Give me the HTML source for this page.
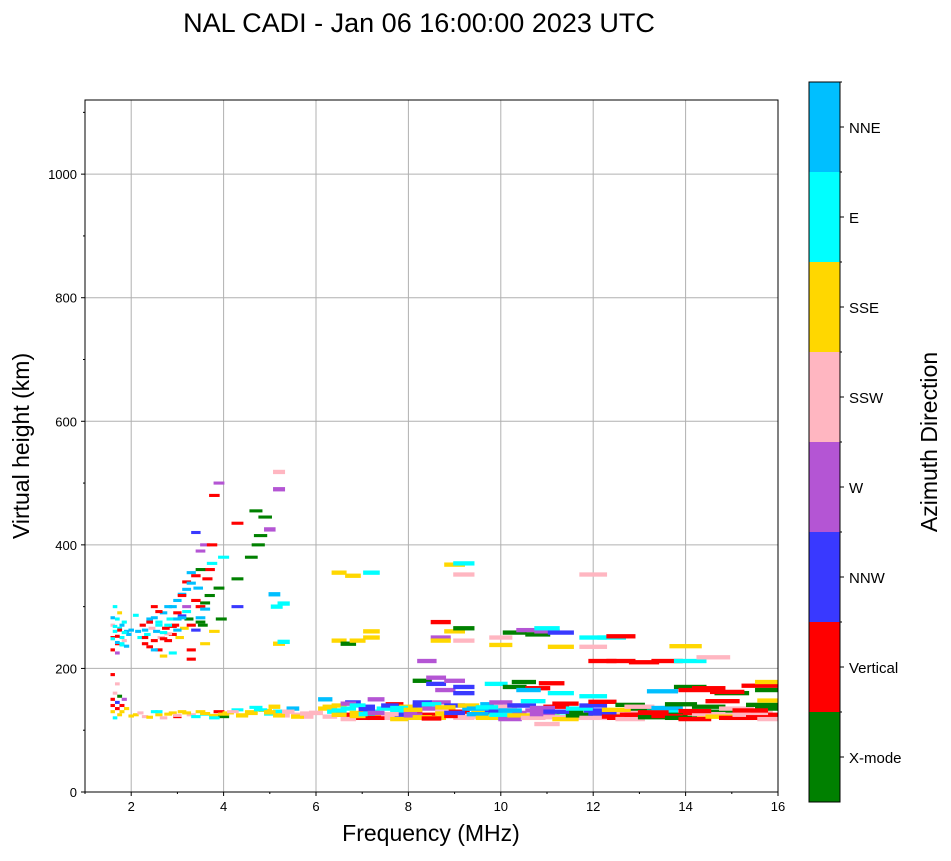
<!DOCTYPE html>
<html><head><meta charset="utf-8"><style>
body{margin:0;background:#fff;}
svg text{font-family:"Liberation Sans",sans-serif;}
</style></head><body>
<svg id="chart" width="951" height="856" viewBox="0 0 951 856" xmlns="http://www.w3.org/2000/svg">
<text x="419" y="32" font-size="27" text-anchor="middle">NAL CADI - Jan 06 16:00:00 2023 UTC</text>
<g id="grid"></g>
<g id="marks"></g>
<rect x="85" y="100" width="693" height="692" fill="none" stroke="#000" stroke-width="1"/>
<g id="axes"></g>
<text x="431" y="841" font-size="23" text-anchor="middle">Frequency (MHz)</text>
<text transform="translate(29,446) rotate(-90)" font-size="23" text-anchor="middle">Virtual height (km)</text>
<g id="colorbar"></g>
<text transform="translate(937,442) rotate(-90)" font-size="23" text-anchor="middle">Azimuth Direction</text>
</svg>
<script>
const dirNames = ["X-mode","Vertical","NNW","W","SSW","SSE","E","NNE"];
const dirColors = ["#008000","#ff0000","#3939ff","#b455d4","#ffb6c1","#ffd700","#00ffff","#00bfff"];
const xTicks = [2,4,6,8,10,12,14,16];
const yTicks = [0,200,400,600,800,1000];
const freqs = [
1.6,1.6,1.6,1.65,1.7,1.7,1.75,1.8,1.8,1.85,1.6,1.7,1.9,1.75,1.65,
1.6,1.6,1.6,1.65,1.7,1.7,1.75,1.75,1.8,1.8,1.85,1.9,1.65,1.7,1.85,1.95,
2.15,2.2,2.25,2.3,2.35,2.4,2.4,2.45,2.5,2.5,2.55,2.6,2.6,2.65,2.7,2.7,2.75,2.8,2.8,2.85,2.9,2.9,2.95,3.0,3.0,3.05,3.1,3.1,3.15,3.2,3.2,3.25,3.3,3.3,3.4,3.45,3.5,3.5,3.55,3.6,3.65,3.7,3.75,3.75,3.8,3.9,3.9,3.95,4.0,4.3,4.3,4.3,4.6,4.7,4.75,4.8,4.9,5.0,5.2,5.2,5.1,5.15,5.3,5.2,5.3,3.4,3.5,3.6,3.8,3.3,
2.1,2.3,2.5,2.6,2.7,2.9,3.0,3.1,3.3,3.5,3.6,3.8,3.9,4.0,4.1,4.3,4.4,4.6,4.7,4.9,5.0,5.1,5.2,5.3,5.5,5.6,5.8,6.0,6.2,6.2,
6.4,6.5,6.6,6.7,6.8,6.9,7.0,7.1,7.2,7.3,7.4,7.5,7.6,7.7,7.8,7.9,8.0,8.1,8.2,8.3,8.4,8.5,8.6,8.7,8.8,8.9,9.0,9.1,9.2,9.4,9.6,9.8,9.9,10.0,10.1,10.3,10.5,10.6,10.8,11.0,11.0,11.2,11.4,11.5,11.7,11.9,12.1,12.3,12.5,12.7,12.9,13.1,13.3,13.5,13.7,14.0,14.3,14.5,14.8,15.0,15.2,15.5,15.8,15.9,16.0,
8.3,8.6,8.8,9.0,9.2,9.2,8.6,9.9,10.3,10.5,10.8,11.1,11.3,10.6,12.0,14.1,14.2,14.5,15.0,15.6,15.9,15.9,14.9,13.5,
6.5,6.8,7.2,6.5,6.7,6.9,7.2,7.2,8.7,8.7,9.0,9.2,9.0,9.2,9.2,8.7,9.2,10.0,10.3,10.6,10.8,11.0,11.3,10.0,11.3,11.0,12.0,12.4,12.6,12.0,12.2,12.6,13.1,13.6,12.0,14.0,14.1,14.6,8.4,
6.3,6.5,6.7,6.9,7.1,7.3,7.6,7.8,8.1,8.3,8.5,8.8,9.0,9.3,9.5,9.7,10.0,10.2,10.4,10.7,10.9,11.2,11.4,11.7,12.0,12.2,12.5,12.8,13.0,13.3,13.6,13.9,14.2,14.5,14.8,15.1,15.4,15.7,15.95,
6.3,6.5,6.7,6.9,7.1,7.3,7.6,7.8,8.1,8.3,8.5,8.8,9.0,9.3,9.5,9.7,10.0,10.2,10.4,10.7,10.9,11.2,11.4,11.7,12.0,12.2,12.5,12.8,13.0,13.3,13.6,13.9,14.2,14.5,14.8,15.1,15.4,15.7,15.95,
2.0,2.2,2.4,2.6,2.8,3.0,3.2,3.4,3.6,3.8,4.0,4.2,4.4,4.6,4.8,5.0,5.2,5.4,5.6,5.8,6.0,
1.6,1.65,1.7,1.75,1.8,1.85,1.6,1.7,1.8,1.9,2.0,2.1,2.3,2.4,2.5,2.6,2.7,2.8,2.9,3.0,3.1,3.2,3.3,3.4,3.5,3.6,3.7,
2.3,2.5,2.7,2.9,3.1,3.3,3.5,2.4,2.6,2.8,3.0,3.2,3.4,3.6
];
const heights = [
130,140,150,160,135,145,155,130,140,150,190,175,135,125,120,
230,250,270,260,280,240,265,290,250,270,245,260,300,225,275,255,
260,250,270,240,255,235,280,265,245,300,260,230,275,250,290,220,265,245,300,280,255,225,270,310,290,250,285,320,265,340,300,280,355,230,350,330,275,300,270,400,345,360,400,370,480,500,330,280,380,300,345,435,380,455,400,415,445,425,490,518,320,300,305,240,243,420,390,240,260,215,
125,122,130,125,120,128,122,130,125,130,126,124,130,122,128,133,125,130,137,132,127,138,130,124,135,125,122,128,135,150,
130,140,125,135,145,128,120,138,130,150,125,135,120,142,130,125,138,130,120,140,125,135,120,145,130,125,140,130,120,135,128,142,130,120,138,128,140,120,132,125,110,138,122,130,125,120,132,125,120,130,125,135,122,130,125,120,128,122,130,125,120,128,125,135,120,
180,175,165,180,160,170,185,175,170,178,168,176,160,165,155,170,165,168,160,172,178,165,162,163,
355,350,355,245,240,245,250,260,275,250,260,265,368,370,352,245,245,250,258,262,255,260,258,238,235,265,250,250,252,235,212,212,210,212,352,236,212,218,212,
122,125,118,123,126,120,126,118,124,121,119,127,123,122,126,120,125,118,124,120,126,121,118,124,120,127,122,118,125,121,123,120,118,126,122,120,125,121,118,
138,132,143,140,134,128,140,136,133,145,142,137,128,140,135,137,145,132,140,147,136,130,143,135,140,146,133,141,138,129,136,142,131,138,147,135,132,141,148,
123,128,121,130,126,124,128,122,127,120,126,130,123,127,133,129,124,130,122,127,128,
248,268,242,262,238,258,282,252,240,236,262,286,250,275,230,270,248,256,268,262,282,292,270,262,282,306,318,
262,282,258,300,318,338,360,275,292,270,280,328,310,296
];
const dirs = [
5,1,1,4,1,2,0,5,1,3,1,4,5,5,6,
1,1,4,6,6,1,6,5,6,7,4,7,6,3,6,7,
7,6,1,1,6,1,7,4,1,1,7,1,6,4,7,5,1,1,7,6,1,6,1,7,1,5,2,7,5,1,3,0,7,1,1,7,0,1,0,3,1,1,1,6,1,3,0,0,6,2,0,1,0,0,0,0,0,3,3,4,7,6,6,5,6,2,3,5,5,1,
5,4,6,5,4,5,1,5,4,5,6,5,1,0,5,6,5,5,6,5,6,5,6,4,7,4,4,4,5,7,
6,5,1,6,2,5,1,2,6,3,5,6,4,1,6,2,5,3,5,2,1,3,5,3,4,5,2,1,4,7,5,7,2,6,4,3,2,5,3,5,4,1,6,0,0,4,2,5,1,4,1,0,0,6,0,1,1,5,0,4,1,4,1,0,4,
0,2,3,3,2,2,3,6,0,0,1,1,6,7,6,0,1,1,0,1,5,0,1,7,
5,5,6,5,0,5,5,5,1,3,5,0,5,6,4,5,4,4,0,3,0,3,2,5,5,6,6,6,1,4,1,1,1,1,4,5,6,4,3,
4,5,4,5,6,1,4,5,3,5,1,5,1,4,7,5,6,3,5,4,3,4,5,0,4,2,1,4,1,0,1,0,1,4,5,1,4,1,4,
5,6,3,6,2,3,2,6,5,2,6,5,2,5,7,6,3,7,2,6,3,2,1,6,2,1,5,0,4,1,7,0,1,0,1,4,1,0,5,
5,4,5,6,5,4,5,6,5,6,5,4,5,5,6,5,5,4,5,4,4,
6,6,7,1,6,6,7,1,6,7,7,6,1,7,7,6,1,4,1,7,7,6,1,2,7,0,0,
7,7,6,7,1,7,0,1,1,6,7,7,1,7
];
const X0=85,X1=778,Y0=792,Y1=100,XMIN=1,XMAX=16,YMIN=0,YMAX=1120;
function xs(f){return X0+(f-XMIN)/(XMAX-XMIN)*(X1-X0);}
function ys(h){return Y0-(h-YMIN)/(YMAX-YMIN)*(Y0-Y1);}
const NS="http://www.w3.org/2000/svg";
function mk(tag,attrs,parent){const e=document.createElementNS(NS,tag);for(const k in attrs)e.setAttribute(k,attrs[k]);parent.appendChild(e);return e;}
const grid=document.getElementById('grid'),axes=document.getElementById('axes'),marks=document.getElementById('marks'),cb=document.getElementById('colorbar');
xTicks.forEach(t=>{
  const x=xs(t);
  const gl=mk('line',{x1:x,x2:x,y1:Y1,y2:Y0,stroke:'#b0b0b0','stroke-width':1},grid);
  
  
  mk('line',{x1:x,x2:x,y1:Y0,y2:Y0+4,stroke:'#000'},axes);
  const tx=mk('text',{x:x,y:Y0+19,'font-size':13,'text-anchor':'middle'},axes);
  tx.textContent=t;
  
  
});
for(let t=1;t<16;t+=2){const x=xs(t);mk('line',{x1:x,x2:x,y1:Y0,y2:Y0+2,stroke:'#000'},axes);}
yTicks.forEach(t=>{
  const y=ys(t);
  const gl=mk('line',{x1:X0,x2:X1,y1:y,y2:y,stroke:'#b0b0b0','stroke-width':1},grid);
  
  
  mk('line',{x1:X0-4,x2:X0,y1:y,y2:y,stroke:'#000'},axes);
  const tx=mk('text',{x:X0-8,y:y+5,'font-size':13,'text-anchor':'end'},axes);
  tx.textContent=t;
  
  
});
for(let t=100;t<1120;t+=200){const y=ys(t);mk('line',{x1:X0-2,x2:X0,y1:y,y2:y,stroke:'#000'},axes);}
for(let i=0;i<freqs.length;i++){
  const f=freqs[i],h=heights[i];
  const w=f<5?0.06*f:0.05*f;
  const th=f<5?5:7;
  let x=xs(f-w/2),x2=xs(f+w/2);
  if(x2>X1)x2=X1;
  const y=ys(h+th/2),y2=ys(h-th/2);
  const r=mk('rect',{x:x,y:y,width:Math.max(1,x2-x),height:y2-y,fill:dirColors[dirs[i]]},marks);
  
  
}
const CBX=809,CBW=31,CBT=82,CBH=720,seg=CBH/dirNames.length;
dirNames.forEach((n,i)=>{
  const y=CBT+CBH-(i+1)*seg;
  const r=mk('rect',{x:CBX,y:y,width:CBW,height:seg,fill:dirColors[i]},cb);
  
  
  mk('line',{x1:CBX+CBW,x2:CBX+CBW+4,y1:y+seg/2,y2:y+seg/2,stroke:'#000'},cb);
  mk('line',{x1:CBX+CBW,x2:CBX+CBW+2,y1:y,y2:y,stroke:'#000'},cb);
  const tx=mk('text',{x:CBX+CBW+9,y:y+seg/2+6,'font-size':15},cb);
  tx.textContent=n;
  
  
});
mk('rect',{x:CBX,y:CBT,width:CBW,height:CBH,fill:'none',stroke:'#000'},cb);
</script>
</body></html>
